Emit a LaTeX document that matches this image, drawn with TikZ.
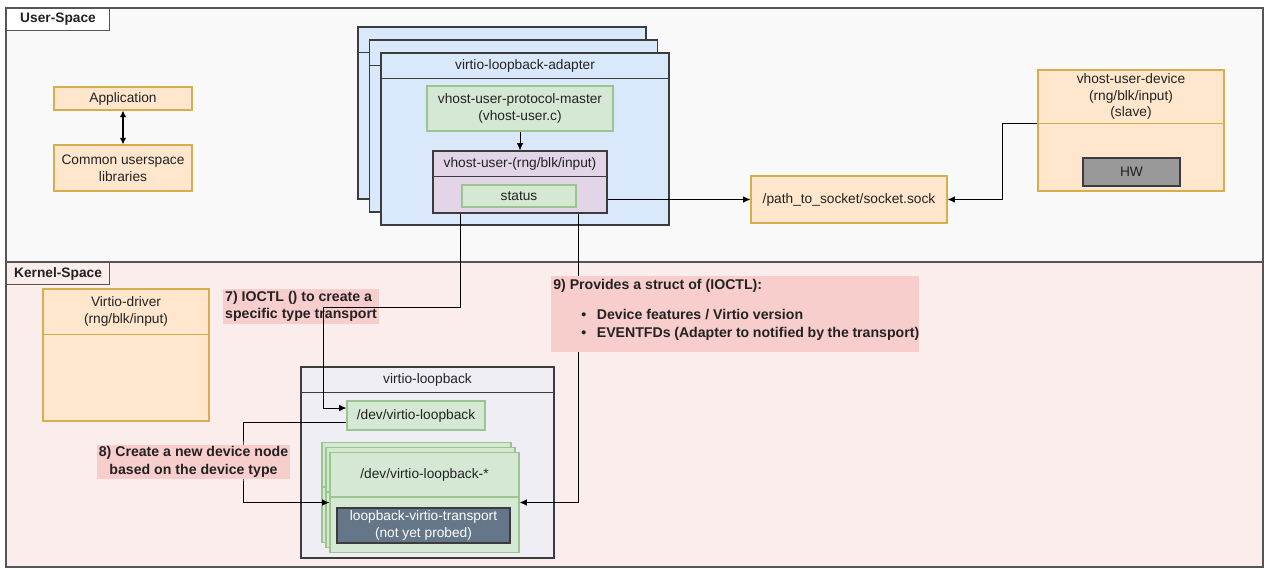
\documentclass[tikz,border=0pt]{standalone}
\usepackage{fontspec}
\setsansfont{Liberation Sans}
\usetikzlibrary{arrows.meta}

\definecolor{userbg}{HTML}{F9F9F9}
\definecolor{kernelbg}{HTML}{FCEDED}
\definecolor{laneline}{HTML}{555555}
\definecolor{orfill}{HTML}{FFE6CC}
\definecolor{orline}{HTML}{D6AE4E}
\definecolor{bluefill}{HTML}{DAE8FC}
\definecolor{greenfill}{HTML}{D5E8D4}
\definecolor{greenline}{HTML}{9AC58F}
\definecolor{purplefill}{HTML}{E1D5E7}
\definecolor{loopfill}{HTML}{EEEEF4}
\definecolor{hwfill}{HTML}{999999}
\definecolor{slate}{HTML}{647687}
\definecolor{notefill}{HTML}{F8CECC}
\definecolor{textc}{HTML}{222222}
\definecolor{darkline}{HTML}{3C3C3C}

\tikzset{
  every node/.append style={font=\sffamily\fontsize{10.3}{12.5}\selectfont, text=textc},
  box/.style 2 args={minimum width=#1*0.75pt, minimum height=#2*0.75pt, inner sep=0pt, line width=.8pt},
  orbox/.style={fill=orfill, draw=orline},
  bluebox/.style={fill=bluefill, draw=darkline},
  greenbox/.style={fill=greenfill, draw=greenline},
  purplebox/.style={fill=purplefill, draw=darkline},
  loopbox/.style={fill=loopfill, draw=darkline},
  hwbox/.style={fill=hwfill, draw=darkline},
  slatebox/.style={fill=slate, draw=darkline, text=white, align=center},
  note/.style={fill=notefill, font=\sffamily\bfseries\fontsize{10.6}{13}\selectfont, inner sep=1.5pt},
  lanelabel/.style={draw=laneline, line width=.8pt, font=\sffamily\bfseries\fontsize{10.3}{12}\selectfont,
    anchor=north west, minimum width=77.25pt, minimum height=16.5pt, inner sep=0pt},
  conn/.style={line width=.75pt, draw=black},
  arr/.style={-{Latex[length=5.5pt,width=5pt]}},
}

\begin{document}
\begin{tikzpicture}[x=.75pt, y=-.75pt]
\useasboundingbox[fill=white] (0,0) rectangle (1264,568);

% lanes
\draw[fill=userbg, draw=laneline, line width=.8pt] (6,8) rectangle (1263,262);
\draw[fill=kernelbg, draw=laneline, line width=.8pt] (6,262) rectangle (1263,567);
\node[lanelabel, fill=white] (userlbl) at (6,8) {User-Space};
\node[lanelabel, fill=kernelbg] (kernellbl) at (6,262) {Kernel-Space};

% user space
\node[box={138}{23}, orbox] (app) at (123,98.5) {Application};
\node[box={138}{46}, orbox, align=center] (libs) at (123,168) {Common userspace\\libraries};
\draw[conn, line width=1.2pt, {Latex[length=5pt,width=5pt]}-{Latex[length=5pt,width=5pt]}] (app) -- (libs);

\foreach \i in {0,1,2} {
  \node[box={288}{172}, bluebox] (adapter\i) at (502+11.5*\i,113+13*\i) {};
  \draw[darkline, line width=.8pt] ([yshift=-19.5pt]adapter\i.north west) -- ([yshift=-19.5pt]adapter\i.north east);
}
\node (adaptertitle) at ([yshift=-9.75pt]adapter2.north) {virtio-loopback-adapter};
\node[box={186}{45}, greenbox, align=center] (master) at (520,108.5) {vhost-user-protocol-master\\(vhost-user.c)};
\node[box={174}{62}, purplebox] (vhostuser) at (520,182) {};
\draw[darkline, line width=.8pt] ([yshift=-19.5pt]vhostuser.north west) -- ([yshift=-19.5pt]vhostuser.north east);
\node (vhosttitle) at ([yshift=-9.75pt]vhostuser.north) {vhost-user-(rng/blk/input)};
\node[box={114}{22}, greenbox] (status) at (519,196) {status};
\draw[conn, arr] (master) -- (vhostuser);

\node[box={196}{47}, orbox] (socket) at (849,199.5) {/path\_to\_socket/socket.sock};
\draw[conn, arr] (vhostuser.east |- socket.west) -- (socket.west);

\node[box={186}{121}, orbox] (device) at (1131,130.5) {};
\draw[orline, line width=.8pt] ([yshift=-40.5pt]device.north west) coordinate (devsplit) -- ([yshift=-40.5pt]device.north east);
\node[align=center] (devtitle) at ([yshift=-20.25pt]device.north) {vhost-user-device\\(rng/blk/input)\\(slave)};
\node[box={97}{28}, hwbox] (hw) at (1131.5,172) {HW};
\draw[conn, arr] (devsplit) -- ++(-35,0) |- (socket.east);

% kernel space
\node[box={166}{132}, orbox] (driver) at (126,355) {};
\draw[orline, line width=.8pt] ([yshift=-34.5pt]driver.north west) -- ([yshift=-34.5pt]driver.north east);
\node[align=center] (drivertitle) at ([yshift=-17.25pt]driver.north) {Virtio-driver\\(rng/blk/input)};

\node[note, align=left] (note7) at (301,306.5) {7) IOCTL () to create a\\specific type transport};

\node[box={253}{191}, loopbox] (loopback) at (427.5,462.5) {};
\draw[darkline, line width=.8pt] ([yshift=-19.5pt]loopback.north west) -- ([yshift=-19.5pt]loopback.north east);
\node (looptitle) at ([yshift=-9.75pt]loopback.north) {virtio-loopback};
\node[box={138}{29}, greenbox] (devloop) at (416,415.5) {/dev/virtio-loopback};
\foreach \i in {0,1,2} {
  \node[box={189}{100}, greenbox] (devstar\i) at (416.5+4*\i,492.5+5*\i) {};
  \draw[greenline, line width=.8pt] ([yshift=-33.75pt]devstar\i.north west) -- ([yshift=-33.75pt]devstar\i.north east);
}
\node (devstartitle) at ([yshift=-16.9pt]devstar2.north) {/dev/virtio-loopback-*};
\node[box={173}{35}, slatebox] (transport) at (423.5,525.5) {loopback-virtio-transport\\(not yet probed)};

% connectors
\coordinate (bend7) at (323,307);
\draw[conn, arr] ([xshift=-45pt]vhostuser.south) |- (bend7) |- ([yshift=5.6pt]devloop.west);
\coordinate (bend8) at (243,460);
\draw[conn, arr] ([yshift=-5.6pt]devloop.west) -| (bend8) |- (devstar2.west);
\draw[conn, arr] ([xshift=43.5pt]vhostuser.south) |- (devstar2.east);

\node[note, align=center] (note8) at (193.5,462) {8) Create a new device node\\based on the device type};

\node[note, anchor=north west, inner sep=0pt] (note9) at (551,276) {%
  \begin{minipage}[t][57pt][t]{276pt}
  \vspace*{2pt}\hspace*{1.5pt}9) Provides a struct of (IOCTL):\\[9.5pt]
  \hspace*{22.5pt}\textbullet\hspace*{8pt}Device features / Virtio version\\[0.5pt]
  \hspace*{22.5pt}\textbullet\hspace*{8pt}EVENTFDs (Adapter to notified by the transport)
  \end{minipage}};

\end{tikzpicture}
\end{document}
